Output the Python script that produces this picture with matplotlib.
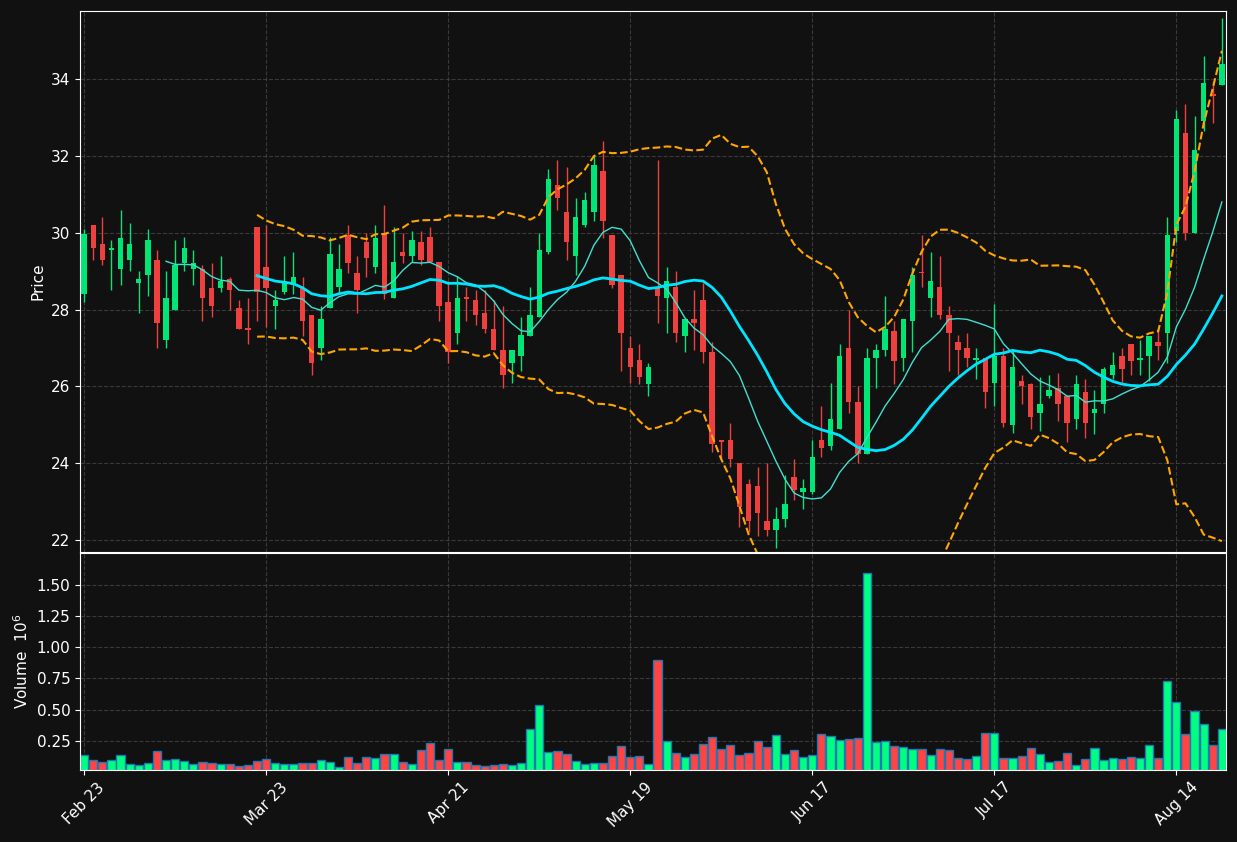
import numpy as np
import pandas as pd
import matplotlib
matplotlib.use("Agg")
import matplotlib.pyplot as plt

opens = [28.4,30.2,29.7,29.55,29.05,29.3,28.7,28.9,29.3,27.2,28.0,29.2,29.05,29.05,28.55,28.55,28.8,28.05,27.52,30.15,
         29.1,28.1,28.45,28.65,28.55,27.85,27.0,28.05,28.6,29.95,28.95,29.75,29.1,30.0,28.3,29.5,29.4,29.75,29.9,29.25,
         28.2,27.4,28.32,28.25,27.9,27.5,26.95,26.6,26.8,27.3,27.8,29.5,31.25,30.55,29.4,30.2,30.55,31.6,29.95,28.9,
         27.0,26.7,26.05,28.6,28.3,28.6,27.3,27.75,28.25,26.9,24.6,24.6,24.0,23.45,23.4,22.5,22.25,22.55,23.65,23.25,
         23.25,24.6,24.45,24.9,27.0,25.6,24.25,26.75,26.95,27.45,26.75,27.7,28.98,28.3,28.6,27.85,27.15,27.0,26.7,26.75,
         26.1,26.8,25.0,26.15,26.05,25.3,25.75,25.95,25.75,25.15,25.85,25.3,25.55,26.3,26.8,27.1,26.7,26.8,27.15,27.4,
         30.05,32.6,30.0,32.9,33.6,33.85]
closes = [29.97,29.6,29.3,29.6,29.85,29.7,28.8,29.8,27.65,28.3,29.15,29.6,29.2,28.3,28.1,28.75,28.5,27.5,27.48,28.45,
          28.55,28.25,28.7,28.85,27.7,26.6,27.75,29.45,29.05,29.2,28.5,29.35,29.85,28.4,29.25,29.4,29.8,29.3,29.25,28.1,
          26.9,28.3,28.28,27.85,27.5,26.95,26.3,26.95,27.35,27.85,29.55,31.4,30.9,29.75,30.4,30.85,31.75,30.3,28.65,27.4,
          26.5,26.25,26.5,28.35,28.75,27.4,27.75,27.65,26.9,24.5,24.55,24.1,22.85,22.5,22.7,22.25,22.55,22.95,23.3,23.35,
          24.15,24.4,25.15,26.8,25.6,24.25,26.75,26.95,27.5,26.65,27.75,28.9,28.95,28.75,27.85,27.4,26.95,26.75,26.75,25.85,
          26.8,25.05,26.5,26.0,25.2,25.55,25.9,25.55,25.05,26.05,25.05,25.4,26.45,26.55,26.45,26.65,26.75,27.3,27.05,29.95,
          32.95,30.0,32.15,33.9,33.55,34.4]
highs = [30.1,30.2,30.4,29.8,30.6,30.25,29.0,30.1,29.55,29.0,29.8,29.9,29.55,29.15,29.2,29.4,28.85,28.25,28.3,30.15,
         30.2,28.5,29.4,29.5,28.85,27.85,28.1,29.9,29.7,30.2,29.4,30.0,30.2,30.72,30.15,30.0,30.05,30.05,30.15,29.25,
         28.75,28.88,28.6,28.5,28.5,28.25,28.1,26.95,27.8,28.6,30.0,31.65,31.9,31.7,30.9,31.05,32.0,32.4,29.95,28.9,
         27.3,27.1,26.6,31.9,29.1,29.0,27.75,28.5,28.7,27.15,24.6,25.05,24.0,23.6,23.9,24.0,22.85,23.7,24.1,23.6,
         24.6,25.5,26.1,27.1,28.0,26.0,27.0,27.1,28.35,27.7,27.75,29.1,29.95,29.5,29.4,28.1,27.35,27.4,27.0,26.75,
         28.15,27.0,26.95,26.3,26.1,26.25,26.3,26.35,25.75,26.3,26.2,25.9,26.5,26.9,27.0,27.1,27.2,27.3,27.5,30.4,
         33.2,33.35,33.05,34.6,33.95,35.6]
lows = [28.2,29.3,29.15,28.5,28.65,29.0,27.9,28.35,27.0,27.0,28.0,29.0,28.65,27.7,27.8,28.45,28.0,27.5,27.1,27.7,
        27.55,27.5,28.4,28.4,27.3,26.3,26.7,28.05,28.4,28.95,27.9,28.85,28.95,28.27,28.3,29.2,29.25,29.15,29.25,27.7,
        26.6,27.1,27.7,27.6,27.4,26.95,25.95,26.1,26.4,27.3,27.8,29.45,30.6,29.3,28.9,30.15,30.3,29.85,28.55,26.4,
        26.1,26.05,25.75,27.65,27.4,27.15,26.9,26.95,26.6,24.3,24.1,23.9,22.35,22.2,22.1,22.1,21.8,22.35,23.05,22.8,
        23.2,24.15,24.35,24.9,25.3,24.0,24.25,25.95,26.8,26.05,26.4,26.9,28.6,27.8,27.75,26.4,26.3,26.5,26.2,25.45,
        25.5,24.95,24.8,25.55,24.9,24.85,25.7,25.1,24.55,24.9,24.65,24.75,25.3,26.2,26.1,26.3,26.3,26.15,26.7,26.6,
        29.75,29.8,30.0,32.65,32.85,33.85]
volumes_m = [0.137,0.098,0.079,0.098,0.137,0.063,0.055,0.071,0.17,0.098,0.106,0.087,0.063,0.079,0.071,0.063,0.063,0.047,0.055,0.09,
             0.106,0.071,0.063,0.063,0.071,0.071,0.095,0.079,0.039,0.122,0.071,0.122,0.114,0.143,0.143,0.079,0.063,0.178,0.231,0.095,
             0.186,0.079,0.079,0.055,0.044,0.055,0.063,0.055,0.071,0.343,0.535,0.156,0.167,0.143,0.087,0.063,0.071,0.071,0.127,0.207,
             0.119,0.127,0.063,0.896,0.25,0.151,0.119,0.143,0.223,0.279,0.183,0.215,0.135,0.151,0.25,0.199,0.295,0.143,0.175,0.119,
             0.135,0.303,0.287,0.255,0.263,0.271,1.595,0.24,0.247,0.207,0.199,0.183,0.183,0.135,0.183,0.175,0.111,0.103,0.127,0.311,
             0.311,0.111,0.111,0.127,0.191,0.143,0.079,0.087,0.151,0.055,0.103,0.191,0.095,0.111,0.103,0.119,0.111,0.215,0.111,0.728,
             0.56,0.303,0.487,0.383,0.215,0.343]
tick_labels = ['Feb 23', 'Mar 23', 'Apr 21', 'May 19', 'Jun 17', 'Jul 17', 'Aug 14']

o = np.array(opens); c = np.array(closes); h = np.array(highs); l = np.array(lows); v = np.array(volumes_m)
n = len(c)
x = np.arange(n)
s = pd.Series(c)
sma20 = s.rolling(20).mean()
sma10 = s.rolling(10).mean()
std20 = s.rolling(20).std(ddof=0)
upper = sma20 + 2 * std20
lower = sma20 - 2 * std20

BG = '#111111'
GREEN = '#00e676'
RED = '#ef4040'
VGREEN = '#00ff80'
VRED = '#ff4444'

fig = plt.figure(figsize=(12.37, 8.42), dpi=100, facecolor=BG)
ax = fig.add_axes([0.0647, 0.3444, 0.9264, 0.6425], facecolor=BG)
axv = fig.add_axes([0.0647, 0.0855, 0.9264, 0.2577], facecolor=BG, sharex=ax)

up = c >= o
cols = np.where(up, GREEN, RED)
ax.vlines(x, l, h, colors=cols, linewidth=1, zorder=2)
ax.bar(x, np.maximum(np.abs(c - o), 0.04), bottom=np.minimum(o, c), width=0.6, color=cols, zorder=3)
ax.plot(x, upper, color='#ffa500', lw=1.5, ls='--', zorder=4)
ax.plot(x, lower, color='#ffa500', lw=1.5, ls='--', zorder=4)
ax.plot(x, sma10, color='#40e0d0', lw=1, zorder=4)
ax.plot(x, sma20, color='#00e5ff', lw=2, zorder=4)

ax.set_xlim(-0.45, n - 0.55)
ax.set_ylim(21.69, 35.77)
ax.set_yticks(np.arange(22, 35, 2))
ax.set_ylabel('Price', color='white', fontsize=11)
plt.setp(ax.get_xticklabels(), visible=False)

axv.bar(x, v, width=0.9, color=np.where(up, VGREEN, VRED), edgecolor='#1f77b4', linewidth=1)
axv.set_ylim(0.015, 1.755)
axv.set_yticks([0.25, 0.5, 0.75, 1.0, 1.25, 1.5])
axv.set_yticklabels(['0.25', '0.50', '0.75', '1.00', '1.25', '1.50'])
axv.set_ylabel('Volume  $10^{6}$', color='white', fontsize=11)
axv.set_xticks(np.arange(0, n, 20))
axv.set_xticklabels(tick_labels, rotation=45)

for a in (ax, axv):
    a.grid(True, color='#444444', ls='--', lw=0.8, alpha=0.8)
    a.set_axisbelow(True)
    a.tick_params(colors='white', labelsize=11)
    for sp in a.spines.values():
        sp.set_color('white')

fig.savefig('out.png', dpi=100, facecolor=BG)
